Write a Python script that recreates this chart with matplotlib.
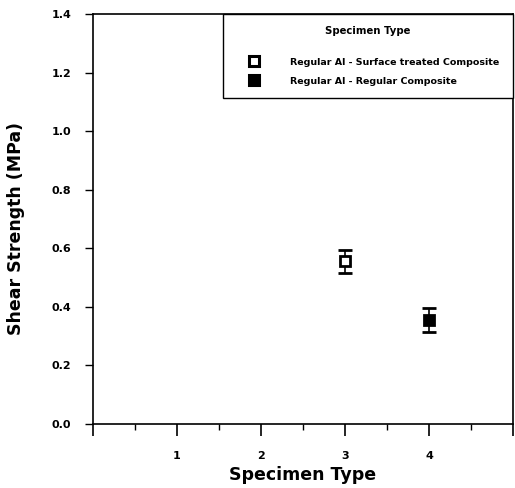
"""Shear strength by specimen type: two points with error bars."""

import matplotlib

matplotlib.use("Agg")
import matplotlib.pyplot as plt
from matplotlib.lines import Line2D
from matplotlib.ticker import FixedLocator, MultipleLocator

plt.rcParams["font.family"] = ["DejaVu Sans"]
plt.rcParams["font.weight"] = "bold"

# data
SPECIMEN = [3, 4]
STRENGTH = [0.555, 0.355]
ERR = [0.040, 0.040]
LABELS = ["Regular Al - Surface treated Composite", "Regular Al - Regular Composite"]
X_TICKS = [1, 2, 3, 4]
Y_TICKS = [0.0, 0.2, 0.4, 0.6, 0.8, 1.0, 1.2, 1.4]


def main() -> None:
    fig = plt.figure(figsize=(5.15, 4.88), dpi=100)
    ax = fig.add_axes([0.1806, 0.1311, 0.8155, 0.8402])

    faces = ["white", "black"]
    handles = []
    for x, y, e, lab, fc in zip(SPECIMEN, STRENGTH, ERR, LABELS, faces):
        ax.errorbar([x], [y], yerr=[e], fmt="s", ms=7, mfc=fc, mec="black",
                    mew=2.0, ecolor="black", elinewidth=1.2, capsize=4.7,
                    capthick=1.2)
        handles.append(Line2D([], [], ls="none", marker="s", ms=7, mfc=fc,
                              mec="black", mew=2.2, label=lab))

    ax.set_xlim(0, 5)
    ax.set_ylim(0, 1.4)
    ax.xaxis.set_major_locator(FixedLocator([0] + X_TICKS + [5]))
    ax.set_xticklabels([""] + [str(v) for v in X_TICKS] + [""])
    ax.xaxis.set_minor_locator(MultipleLocator(0.5))
    ax.set_yticks(Y_TICKS)
    ax.set_yticklabels([f"{v:.1f}" for v in Y_TICKS])
    ax.tick_params(axis="x", which="major", length=8.5, width=1.2,
                   direction="out", labelsize=8, pad=11)
    ax.tick_params(axis="x", which="minor", length=4.3, width=1.0, direction="out")
    ax.tick_params(axis="y", length=5.8, width=1.0, direction="out",
                   labelsize=8, pad=10)
    for s in ax.spines.values():
        s.set_linewidth(1.2)

    ax.set_xlabel("Specimen Type", fontsize=12.5, fontweight="bold", labelpad=3.5)
    ax.set_ylabel("Shear Strength (MPa)", fontsize=12.5, fontweight="bold")
    ax.yaxis.set_label_coords(-0.162, 0.476)

    leg = ax.legend(handles=handles, loc="upper right",
                    bbox_to_anchor=(0.3095, 0.0, 0.6905, 1.0), mode="expand",
                    borderaxespad=0, fancybox=False, edgecolor="black",
                    framealpha=1, title="Specimen Type\n", fontsize=6.8,
                    title_fontsize=7.3, borderpad=1.3, labelspacing=1.05,
                    handlelength=3.98, handletextpad=1.8)
    leg.get_title().set_fontweight("bold")
    leg.get_title().set_linespacing(1.2)
    leg.get_frame().set_linewidth(1.0)

    fig.savefig("out.png", dpi=100)


if __name__ == "__main__":
    main()
